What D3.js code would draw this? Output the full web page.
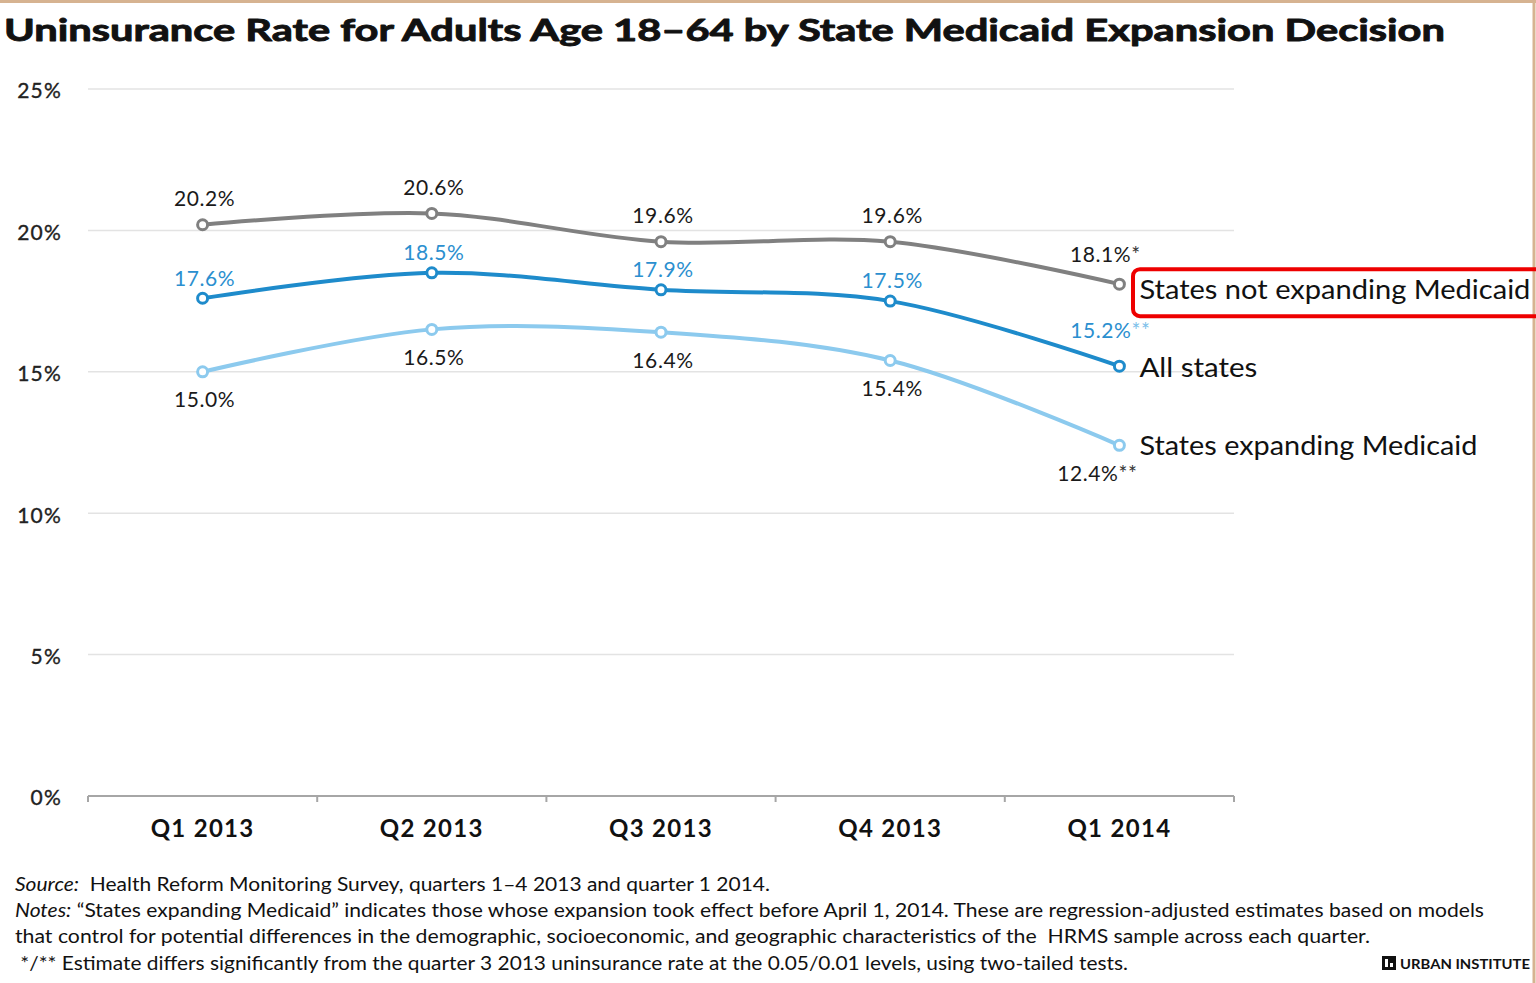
<!DOCTYPE html>
<html>
<head>
<meta charset="utf-8">
<script src="https://cdn.jsdelivr.net/npm/d3@7"></script>
<style>
  html, body { margin: 0; padding: 0; background: #fff; }
  svg { display: block; }
  text { font-family: Lato, "Open Sans", sans-serif; }
</style>
</head>
<body>
<svg id="chart" width="1536" height="983"></svg>
<script>
// ---------- data ----------
const quarters = ["Q1 2013", "Q2 2013", "Q3 2013", "Q4 2013", "Q1 2014"];
const notExpanding = [20.2, 20.6, 19.6, 19.6, 18.1];
const notExpandingSig = ["", "", "", "", "*"];
const allStates = [17.6, 18.5, 17.9, 17.5, 15.2];
const allStatesSig = ["", "", "", "", "**"];
const expanding = [15.0, 16.5, 16.4, 15.4, 12.4];
const expandingSig = ["", "", "", "", "**"];
const seriesNames = ["States not expanding Medicaid", "All states", "States expanding Medicaid"];
const yTicks = [0, 5, 10, 15, 20, 25];

const title = "Uninsurance Rate for Adults Age 18\u201364 by State Medicaid Expansion Decision";
const footLines = [
  [["Source:", true], ["  Health Reform Monitoring Survey, quarters 1\u20134 2013 and quarter 1 2014.", false]],
  [["Notes:", true], [" \u201cStates expanding Medicaid\u201d indicates those whose expansion took effect before April 1, 2014. These are regression-adjusted estimates based on models", false]],
  [["that control for potential differences in the demographic, socioeconomic, and geographic characteristics of the  HRMS sample across each quarter.", false]],
  [[" */** Estimate differs significantly from the quarter 3 2013 uninsurance rate at the 0.05/0.01 levels, using two-tailed tests.", false]]
];

// ---------- layout ----------
const svg = d3.select("#chart");
const W = 1536, H = 983;
const plot = { left: 88, right: 1234, top: 89, bottom: 796 };

const x = d3.scaleBand().domain(quarters).range([plot.left, plot.right]);
const y = d3.scaleLinear().domain([0, 25]).range([plot.bottom, plot.top]);
const cx = q => x(q) + x.bandwidth() / 2;

// border (tan)
svg.append("line").attr("x1", 0).attr("x2", W).attr("y1", 1.5).attr("y2", 1.5)
  .attr("stroke", "#d6b391").attr("stroke-width", 3);
svg.append("line").attr("x1", W - 2).attr("x2", W - 2).attr("y1", 0).attr("y2", H)
  .attr("stroke", "#d6b391").attr("stroke-width", 3);

// title
svg.append("text").attr("x", 4).attr("y", 41)
  .attr("font-family", "'DejaVu Sans', sans-serif")
  .attr("font-size", 30.5).attr("font-weight", 700).attr("fill", "#111")
  .attr("stroke", "#111").attr("stroke-width", 0.9).attr("stroke-linejoin", "round")
  .attr("textLength", 1441).attr("lengthAdjust", "spacingAndGlyphs")
  .text(title);

// gridlines
svg.append("g").selectAll("line").data(yTicks.filter(d => d > 0)).join("line")
  .attr("x1", plot.left).attr("x2", plot.right)
  .attr("y1", d => y(d)).attr("y2", d => y(d))
  .attr("stroke", "#e3e3e3").attr("stroke-width", 1.5);

// y labels
svg.append("g").selectAll("text").data(yTicks).join("text")
  .attr("x", 62).attr("y", d => y(d) + 2).attr("dy", "0.35em")
  .attr("text-anchor", "end").attr("font-size", 21).attr("letter-spacing", 1.2)
  .attr("fill", "#222").attr("stroke", "#222").attr("stroke-width", 0.35)
  .text(d => d + "%");

// x axis
svg.append("line").attr("x1", plot.left).attr("x2", plot.right)
  .attr("y1", plot.bottom).attr("y2", plot.bottom)
  .attr("stroke", "#a6a6a6").attr("stroke-width", 2);
const edges = quarters.map(q => x(q)).concat([plot.right]);
svg.append("g").selectAll("line").data(edges).join("line")
  .attr("x1", d => d).attr("x2", d => d)
  .attr("y1", plot.bottom).attr("y2", plot.bottom + 6)
  .attr("stroke", "#a6a6a6").attr("stroke-width", 2);
svg.append("g").selectAll("text").data(quarters).join("text")
  .attr("x", d => cx(d)).attr("y", 837)
  .attr("text-anchor", "middle").attr("font-size", 24).attr("font-weight", 700)
  .attr("letter-spacing", 1.3)
  .attr("fill", "#111").text(d => d);

// series
const series = [
  { name: seriesNames[0], values: notExpanding, sig: notExpandingSig, color: "#808080", labelColor: "#1a1a1a", sigColor: "#333", dy: -26, lastDx: -14, lastDy: -29, legDy: 5, legLen: 391 },
  { name: seriesNames[1], values: allStates, sig: allStatesSig, color: "#1e8bcb", labelColor: "#2b8fcf", sigColor: "#7cc0ea", dy: -20, lastDx: -9, lastDy: -35, legDy: 1, legLen: 118 },
  { name: seriesNames[2], values: expanding, sig: expandingSig, color: "#8ccaee", labelColor: "#1a1a1a", sigColor: "#333", dy: 28, lastDx: -22, lastDy: 28, legDy: 0, legLen: 338 }
];

const line = d3.line().x((d, i) => cx(quarters[i])).y(d => y(d)).curve(d3.curveCatmullRom.alpha(0.5));

series.slice().reverse().forEach(s => {
  svg.append("path").datum(s.values).attr("d", line)
    .attr("fill", "none").attr("stroke", s.color).attr("stroke-width", 4)
    .attr("stroke-linejoin", "round");
  svg.append("g").selectAll("circle").data(s.values).join("circle")
    .attr("cx", (d, i) => cx(quarters[i])).attr("cy", d => y(d)).attr("r", 5)
    .attr("fill", "#fff").attr("stroke", s.color).attr("stroke-width", 3);
});

series.forEach(s => {
  const n = s.values.length;
  const t = svg.append("g").selectAll("text").data(s.values).join("text")
    .attr("x", (d, i) => cx(quarters[i]) + (i === n - 1 ? s.lastDx : 2))
    .attr("y", (d, i) => y(d) + (i === n - 1 ? s.lastDy : s.dy))
    .attr("dy", "0.35em").attr("text-anchor", "middle")
    .attr("font-size", 21).attr("letter-spacing", 0.6).attr("fill", s.labelColor);
  t.append("tspan").text(d => d.toFixed(1) + "%");
  t.append("tspan").attr("fill", s.sigColor).text((d, i) => s.sig[i]);

  // end label
  const lastY = y(s.values[n - 1]);
  svg.append("text").attr("x", cx(quarters[n - 1]) + 20).attr("y", lastY + s.legDy)
    .attr("dy", "0.35em").attr("font-size", 27.5).attr("fill", "#111")
    .attr("textLength", s.legLen).attr("lengthAdjust", "spacingAndGlyphs")
    .text(s.name);
});

// red highlight box around first legend label
const ly = y(notExpanding[notExpanding.length - 1]);
svg.append("rect").attr("x", 1133).attr("y", ly - 15).attr("width", 430).attr("height", 47)
  .attr("rx", 7).attr("fill", "none").attr("stroke", "#ee0000").attr("stroke-width", 4);

// footer
const footLens = [755, 1469, 1355, 1113];
footLines.forEach((ln, i) => {
  const t = svg.append("text").attr("x", 15).attr("y", 891 + i * 26.2)
    .attr("font-size", 19.5).attr("fill", "#111").attr("xml:space", "preserve")
    .attr("textLength", footLens[i]).attr("lengthAdjust", "spacingAndGlyphs");
  ln.forEach(([txt, it]) => t.append("tspan").attr("font-style", it ? "italic" : "normal").text(txt));
});

// logo
const lg = svg.append("g").attr("transform", "translate(1382,956)");
lg.append("rect").attr("width", 14).attr("height", 14).attr("fill", "#111");
lg.append("rect").attr("x", 3).attr("y", 3).attr("width", 3).attr("height", 8).attr("fill", "#fff");
lg.append("rect").attr("x", 8).attr("y", 7).attr("width", 3).attr("height", 4).attr("fill", "#fff");
svg.append("text").attr("x", 1400).attr("y", 969)
  .attr("font-family", "'Liberation Sans', Arial, sans-serif")
  .attr("font-size", 14).attr("font-weight", 700).attr("fill", "#111")
  .attr("textLength", 130).attr("lengthAdjust", "spacingAndGlyphs").text("URBAN INSTITUTE");
</script>
</body>
</html>
